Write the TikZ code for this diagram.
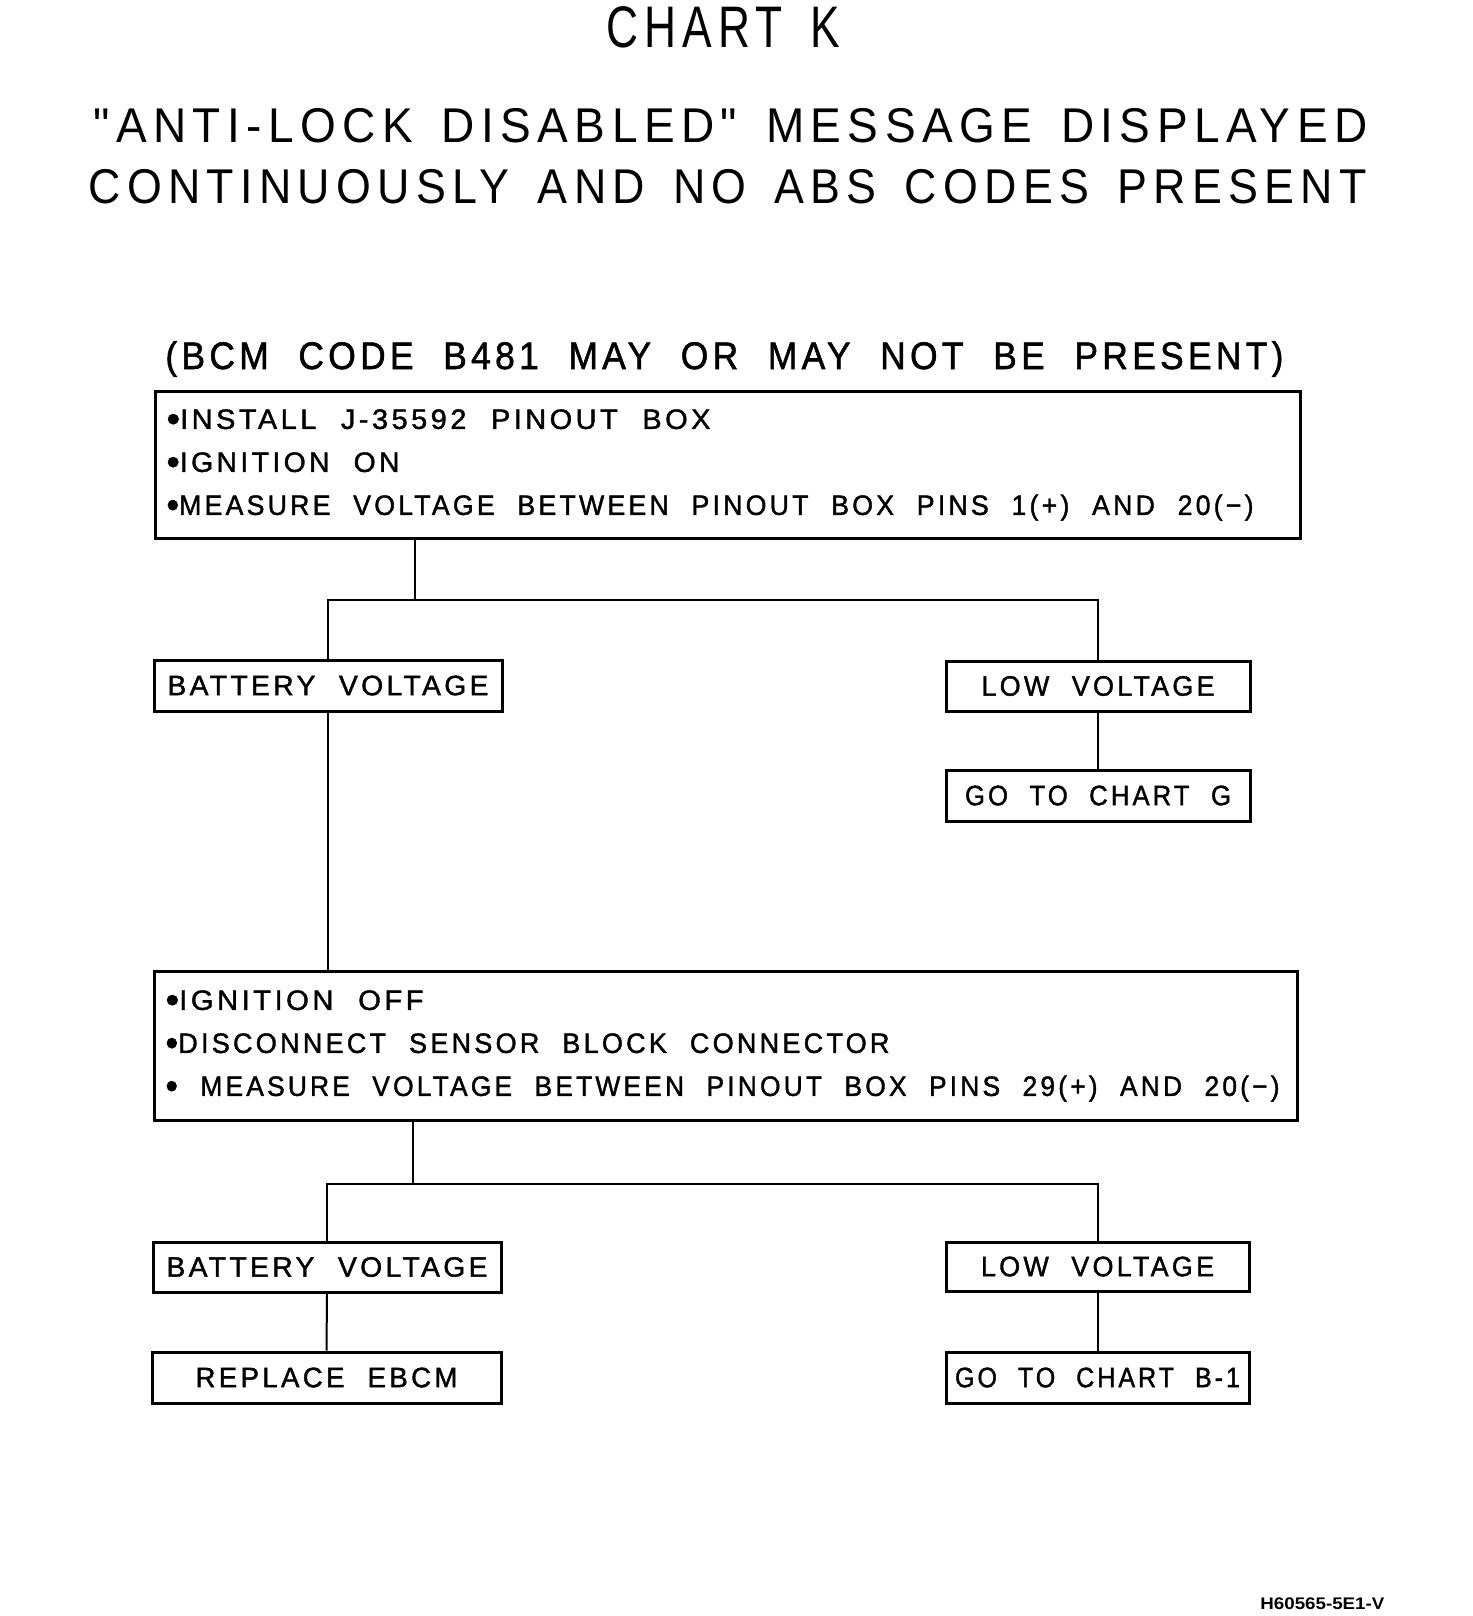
\documentclass[tikz,border=0pt]{standalone}
\usepackage{fontspec}
\usepackage{graphicx}
\newfontfamily\plotfont{Liberation Sans}[LetterSpace=14, WordSpace=1.5]
\newfontfamily\plotbold{Liberation Sans}[LetterSpace=12, WordSpace=2.1, FakeBold=1.4]
\newfontfamily\codefont{Liberation Sans}
\newcommand\fw[2]{\resizebox{#1}{\height}{#2}}
\newcommand\fwb[2]{\resizebox{#1}{\height}{\spaceskip=0.85em\relax #2}}
\newcommand\bul{\raisebox{-0.1em}{\scalebox{1.35}{•}}}
\newcommand\ftitle{\plotfont\fontsize{29.3pt}{30pt}\selectfont}
\newcommand\fhead{\plotfont\fontsize{24.4pt}{26pt}\selectfont}
\newcommand\fbcm{\plotbold\fontsize{19.2pt}{20pt}\selectfont}
\newcommand\fboxtxt{\plotbold\fontsize{14pt}{21.5pt}\selectfont}
\tikzset{
  box/.style={draw, line width=1.5pt, inner sep=0pt, font=\fboxtxt},
  bigbox/.style={box, align=left, inner xsep=5.5pt, inner ysep=0pt},
  conn/.style={line width=1pt},
  txt/.style={inner sep=0pt, anchor=base west}
}
\begin{document}
\begin{tikzpicture}[x=0.5pt, y=-0.5pt]
\useasboundingbox (0,0) rectangle (1472,1616);
% titles
\node[txt, font=\ftitle] (title) at (606,48) {\fw{117pt}{CHART K}};
\node[txt, font=\fhead] (head1) at (93,142) {\fw{637pt}{"ANTI-LOCK DISABLED" MESSAGE DISPLAYED}};
\node[txt, font=\fhead] (head2) at (88,203) {\fw{639pt}{CONTINUOUSLY AND NO ABS CODES PRESENT}};
\node[txt, font=\fbcm] (bcm) at (165,369) {\fw{559pt}{(BCM CODE B481 MAY OR MAY NOT BE PRESENT)}};
% first step box
\node[bigbox, anchor=north west, text width=561.5pt, minimum height=73.5pt] (b1) at (154,390)
  {\fwb{272pt}{\bul INSTALL J-35592 PINOUT BOX}\\
   \fwb{116.5pt}{\bul IGNITION ON}\\
   \fwb{543.5pt}{\bul MEASURE VOLTAGE BETWEEN PINOUT BOX PINS 1(+) AND 20(−)}};
\node[box, minimum width=174pt, minimum height=25.5pt] (bv1) at (328,685.5) {\fw{160.5pt}{BATTERY VOLTAGE}};
\node[box, minimum width=152pt, minimum height=25pt] (lv1) at (1098,686) {\fw{116.5pt}{LOW VOLTAGE}};
\node[box, minimum width=152pt, minimum height=25.5pt] (go1) at (1098,795.5) {\fw{133pt}{GO TO CHART G}};
% second step box
\node[bigbox, anchor=north west, text width=560.5pt, minimum height=74.5pt] (b2) at (153,970)
  {\fwb{129pt}{\bul IGNITION OFF}\\
   \fwb{362pt}{\bul DISCONNECT SENSOR BLOCK CONNECTOR}\\
   \fwb{557pt}{\bul\ MEASURE VOLTAGE BETWEEN PINOUT BOX PINS 29(+) AND 20(−)}};
\node[box, minimum width=174pt, minimum height=25pt] (bv2) at (327,1267) {\fw{160.5pt}{BATTERY VOLTAGE}};
\node[box, minimum width=151.5pt, minimum height=24.5pt] (lv2) at (1097.5,1266.5) {\fw{116.5pt}{LOW VOLTAGE}};
\node[box, minimum width=174.5pt, minimum height=25.5pt] (rep) at (326.5,1377.5) {\fw{131pt}{REPLACE EBCM}};
\node[box, minimum width=151.5pt, minimum height=25.5pt] (go2) at (1097.5,1377.5) {\fw{142.5pt}{GO TO CHART B-1}};
% code
\node[txt, font=\codefont\bfseries\fontsize{8.4pt}{9pt}\selectfont] (code) at (1260,1609) {\fw{62pt}{H60565-5E1-V}};
% connectors
\coordinate (j1) at (415,600);
\coordinate (j2) at (413,1184);
\draw[conn] (b1.south -| j1) -- (j1);
\draw[conn] (bv1.north) |- (j1) -| (lv1.north);
\draw[conn] (bv1.south) -- (bv1.south |- b2.north);
\draw[conn] (lv1.south) -- (go1.north);
\draw[conn] (b2.south -| j2) -- (j2);
\draw[conn] (bv2.north) |- (j2) -| (lv2.north);
\draw[conn] (bv2.south) -- (rep.north);
\draw[conn] (lv2.south) -- (go2.north);
\end{tikzpicture}
\end{document}
